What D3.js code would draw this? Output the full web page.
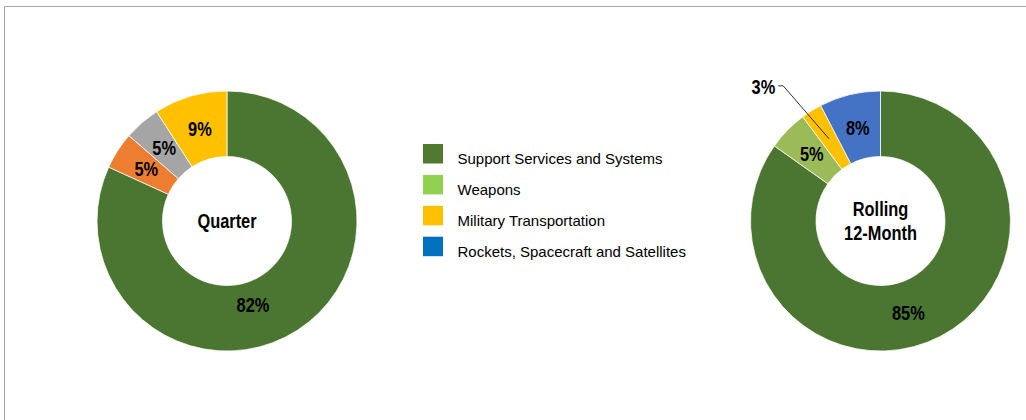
<!DOCTYPE html>
<html>
<head>
<meta charset="utf-8">
<script src="https://cdn.jsdelivr.net/npm/d3@7"></script>
<style>
  html, body { margin: 0; padding: 0; background: #fff; }
  svg text { font-family: "Liberation Sans", Arial, sans-serif; }
</style>
</head>
<body>
<div id="chart"></div>
<script>
// dados (percentual de cada fatia)
const quarterCats = ['Support Services and Systems', 'Other A', 'Other B', 'Military Transportation'];
const quarterValues = [81.8, 4.6, 4.5, 9.1];
const quarterLabels = ['82%', '5%', '5%', '9%'];
const quarterColors = ['#4b7631', '#ed7d31', '#a5a5a5', '#ffc000'];

const rollingCats = ['Support Services and Systems', 'Weapons', 'Military Transportation', 'Rockets, Spacecraft and Satellites'];
const rollingValues = [84.8, 5.0, 2.6, 7.6];
const rollingLabels = ['85%', '5%', '3%', '8%'];
const rollingColors = ['#4b7631', '#9bbb59', '#ffc000', '#4472c4'];

const legendCats = ['Support Services and Systems', 'Weapons', 'Military Transportation', 'Rockets, Spacecraft and Satellites'];
const legendColors = ['#4f7a30', '#92d050', '#ffc000', '#0070c0'];

const W = 1026, H = 420;
const svg = d3.select('#chart').append('svg')
  .attr('width', W)
  .attr('height', H);

// moldura cinza (só topo e esquerda aparecem)
svg.append('path')
  .attr('d', `M4.5,${H} L4.5,6.5 L${W},6.5`)
  .attr('fill', 'none')
  .attr('stroke', '#a6a6a6')
  .attr('stroke-width', 1);

// texto "estreito" (imita Arial Narrow bold com escala horizontal)
function narrowText(parent, x, y, str, anchor) {
  return parent.append('text')
    .attr('transform', `translate(${x},${y}) scale(0.82,1)`)
    .attr('dy', '0.35em')
    .attr('text-anchor', anchor || 'middle')
    .style('font-size', '20px')
    .style('font-weight', '700')
    .style('fill', '#000')
    .text(str);
}

function donut(cx, cy, values, labels, colors, centerLines, outsideIdx, bigShift, bigR) {
  const g = svg.append('g').attr('transform', `translate(${cx},${cy})`);
  const pie = d3.pie().sort(null).value(d => d);
  const arcs = pie(values);
  const arc = d3.arc().innerRadius(64.5).outerRadius(130);

  g.selectAll('path.slice')
    .data(arcs)
    .enter()
    .append('path')
    .attr('class', 'slice')
    .attr('d', arc)
    .attr('fill', (d, i) => colors[i])
    .attr('stroke', '#fff')
    .attr('stroke-width', 0.75);

  const polar = (a, r) => [r * Math.sin(a), -r * Math.cos(a)];
  const rad = Math.PI / 180;

  arcs.forEach((d, i) => {
    let mid = (d.startAngle + d.endAngle) / 2;
    let r = 96;
    // rótulo da fatia grande fica mais para baixo, como no Excel
    if (i === 0) { mid += bigShift * rad; r = bigR; }
    if (i === outsideIdx) {
      const tip = polar(mid, 97);
      const elbow = polar(mid - 3.7 * rad, 166.5);
      g.append('polyline')
        .attr('points', [tip, elbow, [elbow[0] - 5, elbow[1]]].map(p => p.join(',')).join(' '))
        .attr('fill', 'none')
        .attr('stroke', '#000')
        .attr('stroke-width', 0.8);
      narrowText(g, elbow[0] - 8, elbow[1] + 1, labels[i], 'end');
      return;
    }
    const p = polar(mid, r);
    narrowText(g, p[0], p[1], labels[i]);
  });

  const lh = 24.4;
  centerLines.forEach((t, i) => {
    narrowText(g, 0, (i - (centerLines.length - 1) / 2) * lh, t);
  });
}

donut(227, 221, quarterValues, quarterLabels, quarterColors, ['Quarter'], -1, 15.6, 88);
donut(880.5, 221, rollingValues, rollingLabels, rollingColors, ['Rolling', '12-Month'], 2, 10.5, 96);

// legenda
const ly = d3.scalePoint().domain(legendCats).range([144, 236.7]);
const legend = svg.append('g').attr('class', 'legend');
legend.selectAll('rect')
  .data(legendCats)
  .enter()
  .append('rect')
  .attr('x', 423)
  .attr('y', d => ly(d))
  .attr('width', 20)
  .attr('height', 19.5)
  .attr('fill', (d, i) => legendColors[i]);
legend.selectAll('text')
  .data(legendCats)
  .enter()
  .append('text')
  .attr('x', 457.5)
  .attr('y', d => ly(d) + 20)
  .style('font-size', '15px')
  .style('fill', '#000')
  .text(d => d);
</script>
</body>
</html>
